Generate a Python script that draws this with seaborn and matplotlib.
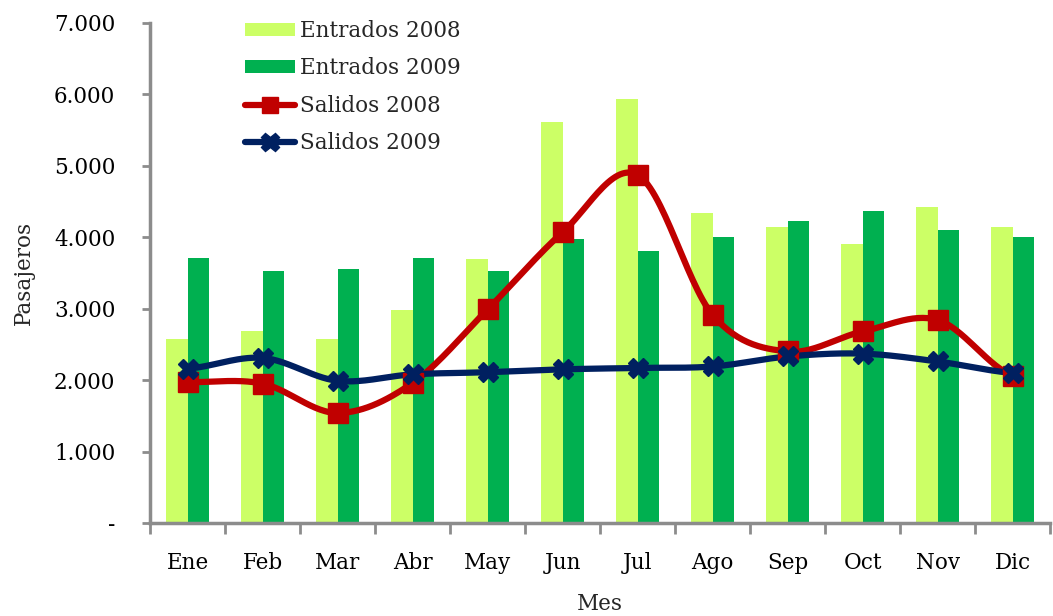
import numpy as np
import pandas as pd
import matplotlib
matplotlib.use("Agg")
import matplotlib.pyplot as plt
import seaborn as sns
from matplotlib.ticker import FixedLocator, FuncFormatter
from matplotlib.lines import Line2D
from matplotlib.patches import Patch

meses = ["Ene", "Feb", "Mar", "Abr", "May", "Jun", "Jul", "Ago", "Sep", "Oct", "Nov", "Dic"]
entrados_2008 = [2580, 2690, 2580, 2980, 3700, 5610, 5930, 4340, 4140, 3900, 4420, 4140]
entrados_2009 = [3710, 3520, 3550, 3710, 3520, 3970, 3810, 4000, 4230, 4370, 4100, 4000]
salidos_2008 = [1970, 1950, 1540, 1960, 2990, 4070, 4870, 2910, 2400, 2680, 2840, 2060]
salidos_2009 = [2160, 2310, 1990, 2080, 2110, 2150, 2170, 2190, 2330, 2370, 2260, 2100]

C_E08 = "#CCFF66"
C_E09 = "#00B050"
C_S08 = "#C00000"
C_S09 = "#002060"
GRAY = "#8C8C8C"

sns.set_theme(style="white")
plt.rcParams["font.family"] = ["DejaVu Serif"]
FS = 15.5

df = pd.DataFrame({
    "Mes": meses * 2,
    "Pasajeros": entrados_2008 + entrados_2009,
    "Serie": ["Entrados 2008"] * 12 + ["Entrados 2009"] * 12,
})

fig = plt.figure(figsize=(10.53, 6.16), dpi=100)
ax = fig.add_axes([0.1425, 0.151, 0.855, 0.812])

sns.barplot(data=df, x="Mes", y="Pasajeros", hue="Serie", order=meses,
            palette=[C_E08, C_E09], width=0.57, saturation=1, ax=ax,
            legend=False, errorbar=None, linewidth=0, edgecolor="none")


def catmull(y, n=30):
    y = np.asarray(y, float)
    x = np.arange(len(y), dtype=float)
    xs, ys = [], []
    for i in range(len(y) - 1):
        p0 = y[i - 1] if i > 0 else y[i]
        p1, p2 = y[i], y[i + 1]
        p3 = y[i + 2] if i + 2 < len(y) else y[i + 1]
        t = np.linspace(0, 1, n, endpoint=False)
        c1 = p1 + (p2 - p0) / 6
        c2 = p2 - (p3 - p1) / 6
        yy = (1 - t) ** 3 * p1 + 3 * (1 - t) ** 2 * t * c1 + 3 * (1 - t) * t ** 2 * c2 + t ** 3 * p2
        xs.append(x[i] + t)
        ys.append(yy)
    xs.append([x[-1]])
    ys.append([y[-1]])
    return np.concatenate(xs), np.concatenate(ys)


xpos = np.arange(len(meses))
for vals, col, mk, ms in [(salidos_2008, C_S08, "s", 14), (salidos_2009, C_S09, "X", 15)]:
    sx, sy = catmull(vals)
    ax.plot(sx, sy, color=col, lw=4.5, solid_capstyle="round", zorder=3)
    ax.plot(xpos, vals, ls="none", marker=mk, ms=ms, color=col, mec=col, zorder=4)

ax.set_ylim(0, 7000)
ax.set_xlim(-0.5, 11.5)
ax.yaxis.set_major_locator(FixedLocator(np.arange(0, 7001, 1000)))
ax.yaxis.set_major_formatter(FuncFormatter(lambda v, p: "-" if v == 0 else f"{int(v):,}".replace(",", ".")))
ax.xaxis.set_minor_locator(FixedLocator(np.arange(-0.5, 12, 1)))

for s in ["top", "right"]:
    ax.spines[s].set_visible(False)
for s in ["left", "bottom"]:
    ax.spines[s].set_color(GRAY)
    ax.spines[s].set_linewidth(2.5)

ax.tick_params(axis="y", which="major", left=True, length=6, width=2, color=GRAY,
               labelsize=FS, pad=19, labelcolor="black")
ax.tick_params(axis="x", which="major", bottom=False, length=0, labelsize=FS, pad=21,
               labelcolor="black")
ax.tick_params(axis="x", which="minor", bottom=True, length=8, width=2, color=GRAY)

ax.set_xlabel("Mes", fontsize=FS)
ax.set_ylabel("Pasajeros", fontsize=FS)
ax.xaxis.set_label_coords(0.5, -0.14)
ax.yaxis.set_label_coords(-0.128, 0.5)

handles = [
    Patch(facecolor=C_E08, edgecolor="none"),
    Patch(facecolor=C_E09, edgecolor="none"),
    Line2D([], [], color=C_S08, lw=4.5, marker="s", ms=12, solid_capstyle="round"),
    Line2D([], [], color=C_S09, lw=4.5, marker="X", ms=13, solid_capstyle="round"),
]
labels = ["Entrados 2008", "Entrados 2009", "Salidos 2008", "Salidos 2009"]
leg = ax.legend(handles, labels, loc="upper left", bbox_to_anchor=(0.084, 1.045),
                frameon=False, fontsize=FS, handlelength=2.3, handleheight=0.55,
                handletextpad=0.25, labelspacing=0.72)

fig.savefig("out.png", dpi=100)
